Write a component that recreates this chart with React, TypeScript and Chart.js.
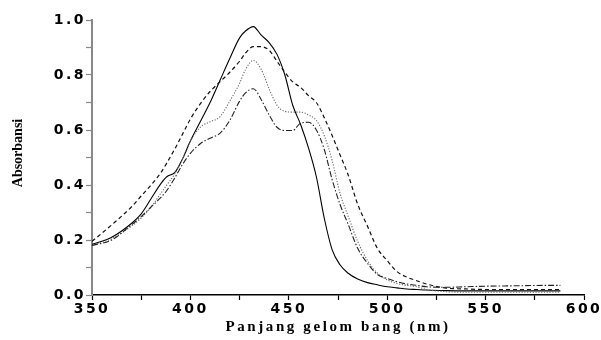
import React, { useEffect, useRef } from "react";
import { Chart, registerables } from "chart.js";

Chart.register(...registerables);

const wavelengths = [350, 360, 370, 375, 380, 385, 388, 392, 396, 400, 405, 410, 415, 420, 425, 428, 432, 436, 440, 444, 448, 452, 456, 460, 464, 468, 472, 476, 480, 485, 490, 495, 500, 505, 510, 515, 520, 530, 540, 550, 560, 570, 580, 588];

const solidSeries = [0.184, 0.21, 0.26, 0.295, 0.35, 0.405, 0.43, 0.445, 0.495, 0.56, 0.63, 0.70, 0.78, 0.86, 0.935, 0.96, 0.976, 0.945, 0.918, 0.875, 0.80, 0.69, 0.62, 0.535, 0.43, 0.28, 0.165, 0.11, 0.08, 0.058, 0.045, 0.037, 0.03, 0.026, 0.022, 0.02, 0.018, 0.016, 0.015, 0.015, 0.015, 0.015, 0.015, 0.015];

const dashedSeries = [0.195, 0.255, 0.32, 0.36, 0.40, 0.445, 0.48, 0.53, 0.585, 0.64, 0.695, 0.74, 0.775, 0.81, 0.85, 0.88, 0.903, 0.903, 0.89, 0.85, 0.81, 0.775, 0.755, 0.725, 0.70, 0.645, 0.58, 0.51, 0.44, 0.33, 0.25, 0.17, 0.125, 0.085, 0.065, 0.052, 0.04, 0.025, 0.022, 0.02, 0.02, 0.02, 0.02, 0.02];

const dottedSeries = [0.18, 0.205, 0.25, 0.28, 0.32, 0.37, 0.40, 0.44, 0.495, 0.56, 0.61, 0.63, 0.648, 0.705, 0.77, 0.82, 0.853, 0.82, 0.75, 0.69, 0.668, 0.665, 0.665, 0.655, 0.635, 0.58, 0.49, 0.37, 0.29, 0.195, 0.125, 0.08, 0.055, 0.042, 0.035, 0.03, 0.02, 0.012, 0.01, 0.01, 0.01, 0.01, 0.01, 0.01];

const dashDotSeries = [0.18, 0.2, 0.255, 0.285, 0.32, 0.355, 0.38, 0.425, 0.475, 0.515, 0.55, 0.57, 0.588, 0.635, 0.705, 0.735, 0.75, 0.71, 0.655, 0.61, 0.598, 0.598, 0.625, 0.628, 0.60, 0.53, 0.42, 0.33, 0.26, 0.17, 0.115, 0.075, 0.06, 0.048, 0.04, 0.035, 0.03, 0.028, 0.03, 0.032, 0.033, 0.034, 0.035, 0.035];

const xTitle = "Panjang gelom bang (nm)";
const yTitle = "Absorbansi";

const toPoints = (ys: number[]) => wavelengths.map((x, i) => ({ x, y: ys[i] }));

const TICK_SPACING = "2.5px";

const titlesPlugin = {
  id: "axisTitles",
  beforeDraw(chart: any) {
    chart.ctx.letterSpacing = TICK_SPACING;
  },
  afterDraw(chart: any) {
    const { ctx, chartArea } = chart;
    ctx.save();
    ctx.fillStyle = "#000";
    ctx.letterSpacing = "2.6px";
    ctx.font = "bold 15px 'Liberation Serif', serif";
    ctx.textAlign = "center";
    ctx.textBaseline = "alphabetic";
    ctx.fillText(xTitle, (chartArea.left + chartArea.right) / 2, 331);
    ctx.restore();

    ctx.save();
    ctx.fillStyle = "#000";
    ctx.letterSpacing = "0px";
    ctx.font = "bold 14px 'Liberation Serif', serif";
    ctx.translate(18, 153);
    ctx.rotate(-Math.PI / 2);
    ctx.textAlign = "center";
    ctx.textBaseline = "middle";
    ctx.fillText(yTitle, 0, 0);
    ctx.restore();
    chart.ctx.letterSpacing = TICK_SPACING;
  },
};

export default function App() {
  const ref = useRef<HTMLCanvasElement | null>(null);
  useEffect(() => {
    if (!ref.current) return;
    const common = { pointRadius: 0, borderWidth: 1.1, fill: false, cubicInterpolationMode: "monotone" as const };
    const tickFont = { family: "'DejaVu Sans', sans-serif", size: 14, weight: "bold" as const };
    const chart = new Chart(ref.current, {
      type: "line",
      data: {
        datasets: [
          { ...common, data: toPoints(dashDotSeries), borderColor: "#222", borderDash: [6, 2, 1.5, 2] },
          { ...common, data: toPoints(dottedSeries), borderColor: "#666", borderDash: [1.2, 1.6] },
          { ...common, data: toPoints(dashedSeries), borderColor: "#111", borderDash: [4, 3], borderWidth: 1.2 },
          { ...common, data: toPoints(solidSeries), borderColor: "#000" },
        ],
      },
      options: {
        animation: false,
        responsive: false,
        layout: { padding: { top: 20, right: 17, left: 0, bottom: 0 } },
        plugins: { legend: { display: false }, tooltip: { enabled: false } },
        scales: {
          x: {
            type: "linear",
            min: 350,
            max: 600,
            afterFit: (s: any) => { s.height = 45; },
            afterBuildTicks: (s: any) => {
              const t = [];
              for (let v = 350; v <= 600; v += 25) t.push({ value: v });
              s.ticks = t;
            },
            ticks: {
              callback: (v: any) => (Number(v) % 50 === 0 ? String(v) : ""),
              color: "#000",
              font: tickFont,
              padding: 1,
              maxRotation: 0,
              autoSkip: false,
            },
            grid: { drawOnChartArea: false, drawTicks: true, tickLength: 5, color: "#000", tickWidth: 1.2 },
            border: { display: true, color: "#000", width: 1.4 },
          },
          y: {
            type: "linear",
            min: 0,
            max: 1.0,
            afterFit: (s: any) => { s.width = 92; },
            afterBuildTicks: (s: any) => {
              const t = [];
              for (let i = 0; i <= 10; i++) t.push({ value: i / 10 });
              s.ticks = t;
            },
            ticks: {
              callback: (v: any) => {
                const n = Math.round(Number(v) * 10);
                return n % 2 === 0 ? (n / 10).toFixed(1) : "";
              },
              color: "#000",
              font: tickFont,
              padding: 0,
              autoSkip: false,
            },
            grid: { drawOnChartArea: false, drawTicks: true, tickLength: 6, color: "#888", tickWidth: 1.2 },
            border: { display: true, color: "#888", width: 2 },
          },
        },
      },
      plugins: [titlesPlugin],
    });
    return () => chart.destroy();
  }, []);
  return (
    <div style={{ position: "absolute", left: 0, top: 0, width: 601, height: 340, background: "#fff" }}>
      <canvas ref={ref} width={601} height={340} />
    </div>
  );
}
